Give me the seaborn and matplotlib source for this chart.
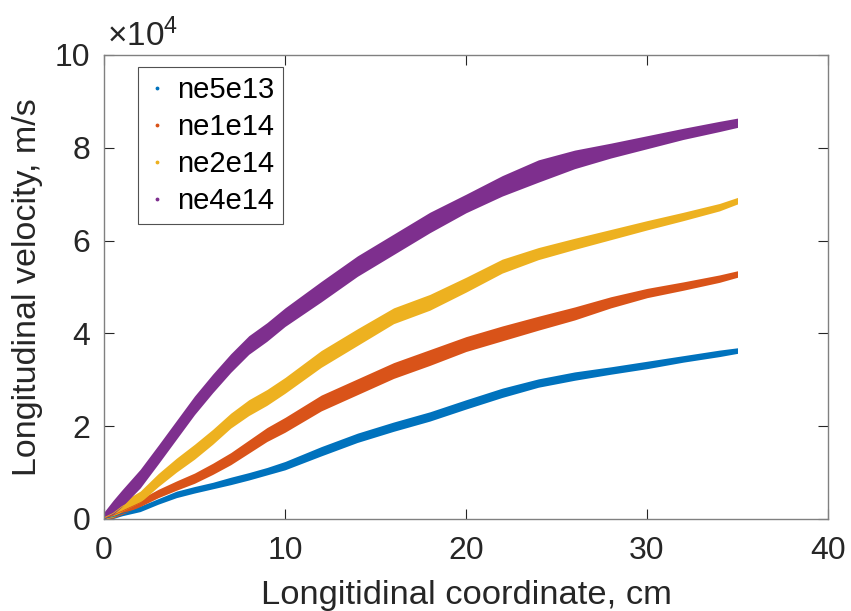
import numpy as np
import pandas as pd
import matplotlib
matplotlib.use("Agg")
import matplotlib.pyplot as plt
from matplotlib.lines import Line2D
from matplotlib.ticker import FuncFormatter
import seaborn as sns

# ---- data (velocity in units of 1e4 m/s) ----
x_cm = [0, 0.5, 1, 2, 3, 4, 5, 6, 7, 8, 9, 10, 12, 14, 16, 18, 20, 22, 24, 26, 28, 30, 32, 34, 35]

ne5e13_low = [0.0, 0.01, 0.07, 0.16, 0.32, 0.46, 0.56, 0.65, 0.74, 0.84, 0.95, 1.06, 1.36, 1.65, 1.89, 2.11, 2.37, 2.62, 2.84, 2.99, 3.12, 3.24, 3.38, 3.50, 3.57]
ne5e13_high = [0.03, 0.09, 0.17, 0.28, 0.44, 0.60, 0.70, 0.79, 0.90, 1.00, 1.11, 1.24, 1.56, 1.85, 2.09, 2.31, 2.57, 2.82, 3.02, 3.17, 3.28, 3.40, 3.52, 3.64, 3.69]

ne1e14_low = [0.0, 0.02, 0.10, 0.27, 0.46, 0.62, 0.77, 0.96, 1.17, 1.42, 1.67, 1.87, 2.33, 2.68, 3.03, 3.31, 3.61, 3.84, 4.07, 4.29, 4.55, 4.77, 4.93, 5.10, 5.21]
ne1e14_high = [0.04, 0.14, 0.24, 0.43, 0.64, 0.82, 0.99, 1.20, 1.43, 1.70, 1.97, 2.19, 2.67, 3.02, 3.37, 3.65, 3.93, 4.16, 4.37, 4.57, 4.79, 4.97, 5.11, 5.26, 5.35]

ne2e14_low = [0.0, 0.04, 0.17, 0.36, 0.70, 1.01, 1.29, 1.61, 1.96, 2.23, 2.45, 2.71, 3.27, 3.74, 4.21, 4.50, 4.89, 5.30, 5.59, 5.81, 6.02, 6.23, 6.43, 6.64, 6.79]
ne2e14_high = [0.05, 0.20, 0.37, 0.60, 0.98, 1.31, 1.61, 1.93, 2.28, 2.57, 2.79, 3.05, 3.63, 4.10, 4.55, 4.84, 5.21, 5.60, 5.85, 6.05, 6.24, 6.43, 6.61, 6.80, 6.93]

ne4e14_low = [0.0, 0.10, 0.27, 0.67, 1.19, 1.72, 2.25, 2.72, 3.16, 3.55, 3.83, 4.15, 4.68, 5.23, 5.70, 6.17, 6.60, 6.96, 7.26, 7.55, 7.78, 7.98, 8.18, 8.35, 8.44]
ne4e14_high = [0.15, 0.40, 0.63, 1.07, 1.59, 2.12, 2.65, 3.12, 3.56, 3.95, 4.23, 4.55, 5.12, 5.67, 6.14, 6.61, 7.00, 7.40, 7.74, 7.95, 8.10, 8.26, 8.42, 8.57, 8.64]

series_names = ["ne5e13", "ne1e14", "ne2e14", "ne4e14"]
series_low = [ne5e13_low, ne1e14_low, ne2e14_low, ne4e14_low]
series_high = [ne5e13_high, ne1e14_high, ne2e14_high, ne4e14_high]
colors = ["#0072BD", "#D95319", "#EDB120", "#7E2F8E"]

rows = []
for name, lo, hi in zip(series_names, series_low, series_high):
    for xv, a, b in zip(x_cm, lo, hi):
        rows.append((name, xv, a * 1e4))
        rows.append((name, xv, b * 1e4))
df = pd.DataFrame(rows, columns=["series", "x", "v"])

# ---- style ----
sns.set_style("white")
plt.rcParams["font.family"] = ["Liberation Sans", "DejaVu Sans"]
plt.rcParams["mathtext.fontset"] = "custom"
plt.rcParams["mathtext.rm"] = "Liberation Sans"
plt.rcParams["mathtext.it"] = "Liberation Sans"

fig = plt.figure(figsize=(8.51, 6.11), dpi=100)
ax = fig.add_axes([104 / 851, 1 - 519 / 611, (828 - 104) / 851, (519 - 55) / 611])

for name, col in zip(series_names, colors):
    sub = df[df["series"] == name]
    sns.lineplot(data=sub, x="x", y="v", ax=ax, color=col, linewidth=0.6,
                 estimator="mean", errorbar=("pi", 100),
                 err_kws={"alpha": 1.0, "linewidth": 0}, legend=False)

ax.set_xlim(0, 40)
ax.set_ylim(0, 1e5)
ax.set_xticks([0, 10, 20, 30, 40])
ax.set_yticks([0, 2e4, 4e4, 6e4, 8e4, 1e5])
ax.yaxis.set_major_formatter(FuncFormatter(lambda v, p: f"{v / 1e4:g}"))

txt_col = "#262626"
for s in ax.spines.values():
    s.set_color("#808080")
    s.set_linewidth(1.0)
ax.tick_params(axis="both", which="major", direction="in", length=7, width=0.8,
               color="#262626", labelsize=23, labelcolor=txt_col,
               top=True, right=True, bottom=True, left=True)
ax.tick_params(axis="x", pad=12)
ax.tick_params(axis="y", pad=10)

ax.set_xlabel("Longitidinal coordinate, cm", fontsize=24.8, color=txt_col, labelpad=10.5)
ax.set_ylabel("Longitudinal velocity, m/s", fontsize=24.5, color=txt_col, labelpad=8)

ax.text(0.004, 1.019, r"$\times10^{4}$", transform=ax.transAxes, fontsize=24,
        color=txt_col, ha="left", va="baseline")

handles = [Line2D([], [], marker=".", linestyle="none", color=c, markersize=3.5)
           for c in colors]
leg = ax.legend(handles, series_names, loc="upper left", bbox_to_anchor=(0.047, 0.974),
                borderaxespad=0, fontsize=21, frameon=True, fancybox=False,
                labelspacing=0.31, handlelength=0.7, handletextpad=0.35,
                borderpad=0.3)
leg.get_frame().set_edgecolor("#262626")
leg.get_frame().set_linewidth(0.8)
for t in leg.get_texts():
    t.set_color("black")

fig.savefig("out.png", dpi=100)
